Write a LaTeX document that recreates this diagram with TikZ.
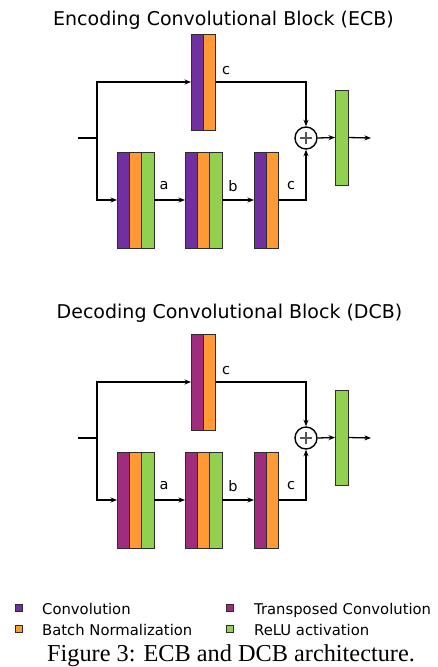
\documentclass[tikz,border=0pt]{standalone}
\usepackage{fontspec}
\setmainfont{DejaVu Sans}
\newfontfamily\capfont{Liberation Serif}
\usetikzlibrary{arrows.meta}
\definecolor{convc}{RGB}{112,48,160}
\definecolor{tconvc}{RGB}{160,44,125}
\definecolor{bnc}{RGB}{255,153,51}
\definecolor{reluc}{RGB}{146,208,80}
\definecolor{edgec}{RGB}{45,45,45}
\definecolor{plusc}{RGB}{85,85,85}
\tikzset{
  strip/.style={draw=edgec, line width=0.8pt, minimum width=12.4pt, minimum height=96pt, inner sep=0pt, outer sep=0pt},
  conn/.style={line width=1.3pt, draw=black},
  arr/.style={conn, -{Stealth[length=6.5pt,width=5pt]}},
  lab/.style={font=\fontsize{14.5}{17}\selectfont, inner sep=0pt},
  ttl/.style={font=\fontsize{19}{23}\selectfont, inner sep=0pt, anchor=base},
  addnode/.style={circle, draw=black, line width=1.4pt, minimum size=22pt, inner sep=0pt},
  legsq/.style={draw=edgec, line width=0.7pt, minimum size=7.5pt, inner sep=0pt},
  legtxt/.style={font=\fontsize{14.8}{17}\selectfont, inner sep=0pt, anchor=base west},
}
\newcommand\cblock[3]{%
\begin{scope}[yshift=-#1pt]
  % skip branch block
  \node[strip, fill=#2, anchor=north west] (#3t1) at (191pt,-34pt) {};
  \node[strip, fill=bnc, anchor=west] (#3t2) at (#3t1.east) {};
  % main branch blocks
  \node[strip, fill=#2, anchor=north west] (#3a1) at (117pt,-152pt) {};
  \node[strip, fill=bnc, anchor=west] (#3a2) at (#3a1.east) {};
  \node[strip, fill=reluc, anchor=west] (#3a3) at (#3a2.east) {};
  \node[strip, fill=#2, anchor=north west] (#3b1) at (185pt,-152pt) {};
  \node[strip, fill=bnc, anchor=west] (#3b2) at (#3b1.east) {};
  \node[strip, fill=reluc, anchor=west] (#3b3) at (#3b2.east) {};
  \node[strip, fill=#2, anchor=north west] (#3c1) at (254pt,-152pt) {};
  \node[strip, fill=bnc, anchor=west] (#3c2) at (#3c1.east) {};
  % adder and output activation
  \node[addnode] (#3plus) at (306pt,-138pt) {};
  \draw[plusc, line width=1.3pt] ([xshift=-6pt]#3plus.center) -- ([xshift=6pt]#3plus.center)
        ([yshift=-6pt]#3plus.center) -- ([yshift=6pt]#3plus.center);
  \node[strip, fill=reluc, minimum width=13pt, minimum height=95pt, anchor=north west] (#3g) at (335pt,-90pt) {};
  \coordinate (#3in) at (78pt,-138pt);
  \coordinate (#3j) at (97pt,-138pt);
  \coordinate (#3out) at (371pt,-138pt);
  % connectors
  \draw[conn] (#3in) -- (#3j);
  \draw[arr] (#3j) |- (#3t1.west);
  \draw[arr] (#3j) |- (#3a1.west);
  \draw[arr] (#3a3.east) -- (#3b1.west);
  \draw[arr] (#3b3.east) -- (#3c1.west);
  \draw[arr] (#3t2.east) -| (#3plus.north);
  \draw[arr] (#3c2.east) -| (#3plus.south);
  \draw[arr] (#3plus.east) -- (#3g.west);
  \draw[arr] (#3g.east) -- (#3out);
  % labels
  \node[lab] (#3lc) at (226pt,-71pt) {c};
  \node[lab] (#3la) at (164pt,-186pt) {a};
  \node[lab] (#3lb) at (233pt,-186pt) {b};
  \node[lab] (#3lcc) at (291pt,-186pt) {c};
\end{scope}}
\begin{document}
\begin{tikzpicture}
  \useasboundingbox (0,0) rectangle (438pt,-667pt);
  \node[ttl] (ecbtitle) at (223.5pt,-25pt) {Encoding Convolutional Block (ECB)};
  \cblock{0}{convc}{e}
  \node[ttl] (dcbtitle) at (229.5pt,-318pt) {Decoding Convolutional Block (DCB)};
  \cblock{300}{tconvc}{d}
  % legend
  \node[legsq, fill=convc] (lg1) at (19pt,-608pt) {};
  \node[legsq, fill=bnc] (lg2) at (19pt,-629pt) {};
  \node[legsq, fill=tconvc] (lg3) at (230pt,-608pt) {};
  \node[legsq, fill=reluc] (lg4) at (230pt,-629pt) {};
  \node[legtxt] (lt1) at (42pt,-614pt) {Convolution};
  \node[legtxt] (lt2) at (42pt,-635pt) {Batch Normalization};
  \node[legtxt] (lt3) at (254pt,-614pt) {Transposed Convolution};
  \node[legtxt] (lt4) at (254pt,-635pt) {ReLU activation};
  % caption
  \node[font=\capfont\fontsize{24.3}{29}\selectfont, inner sep=0pt, anchor=base] (cap) at (231pt,-661.5pt) {Figure 3: ECB and DCB architecture.};
\end{tikzpicture}
\end{document}
